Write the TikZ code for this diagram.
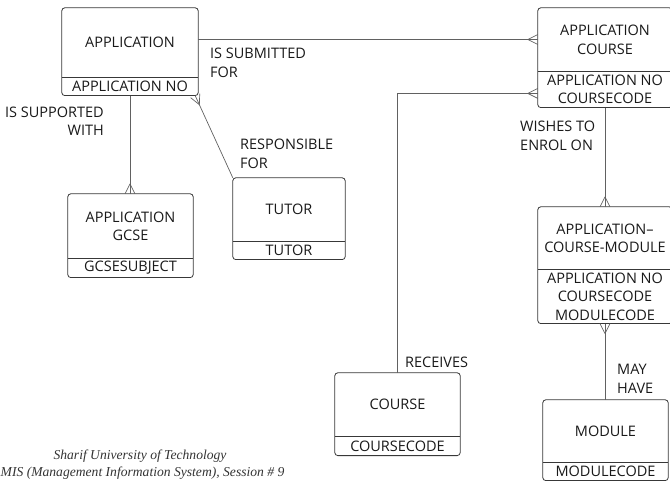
\documentclass[tikz,border=0pt]{standalone}
\usepackage{fontspec}
\setmainfont{Open Sans}
\newfontfamily\footfont{Liberation Serif}
\usetikzlibrary{positioning, fit, calc}
\definecolor{erline}{gray}{0.38}
\definecolor{erframe}{gray}{0.22}
\definecolor{ertext}{gray}{0.10}
\newcommand{\erfont}{\fontsize{14.5}{18.5}\selectfont}
% crow's foot: #1 = point on the entity, #2 = point further along the link
\newcommand{\crowfoot}[2]{%
  \draw[link] ($(#1)!10pt!(#2)$) -- ($(#1)!5pt!90:(#2)$)
              ($(#1)!10pt!(#2)$) -- ($(#1)!5pt!-90:(#2)$);}

\begin{document}
\begin{tikzpicture}[
  x=1pt, y=1pt,
  ebase/.style   = {inner sep=0pt, align=center, font=\erfont, text=ertext},
  ename/.style   = {ebase, text depth=-5pt},
  ekey/.style    = {ebase, below=0pt of #1},
  frame/.style   = {draw=erframe, rounded corners=3pt, inner sep=0pt, line width=0.8pt},
  divider/.style = {draw=erframe, line width=0.8pt},
  link/.style    = {draw=erline, line width=0.7pt},
  rel/.style     = {inner sep=0pt, align=left, font=\erfont, text=ertext},
  foot/.style    = {inner sep=0pt, font=\footfont\itshape\fontsize{13.6}{16}\selectfont, text=black!80},
]
\useasboundingbox (0,0) rectangle (670,-481);

%% ==================== ENTITIES ====================
\node[ename, minimum width=136pt, minimum height=69pt] (app) at (130,-42.5) {APPLICATION};
\node[ekey=app, minimum width=136pt, minimum height=18pt] (appkey) {APPLICATION NO};

\node[ename, minimum width=134pt, minimum height=63pt] (ac) at (605,-39.5) {APPLICATION\\COURSE};
\node[ekey=ac, minimum width=134pt, minimum height=36pt] (ackey) {APPLICATION NO\\COURSECODE};

\node[ename, minimum width=125pt, minimum height=64pt] (gcse) at (130.5,-226) {APPLICATION\\GCSE};
\node[ekey=gcse, minimum width=125pt, minimum height=19pt] (gcsekey) {GCSESUBJECT};

\node[ename, minimum width=112pt, minimum height=63pt] (tutor) at (289,-209.5) {TUTOR};
\node[ekey=tutor, minimum width=112pt, minimum height=18pt] (tutorkey) {TUTOR};

\node[ename, minimum width=134pt, minimum height=62pt] (acm) at (605,-238) {APPLICATION--\\COURSE-MODULE};
\node[ekey=acm, minimum width=134pt, minimum height=54pt] (acmkey) {APPLICATION NO\\COURSECODE\\MODULECODE};

\node[ename, minimum width=125pt, minimum height=63pt] (course) at (397.5,-404.5) {COURSE};
\node[ekey=course, minimum width=125pt, minimum height=19pt] (coursekey) {COURSECODE};

\node[ename, minimum width=125pt, minimum height=62pt] (module) at (605.5,-431) {MODULE};
\node[ekey=module, minimum width=125pt, minimum height=18pt] (modulekey) {MODULECODE};

%% frames and dividers
\foreach \e in {app, ac, gcse, tutor, acm, course, module} {
  \node[frame, fit=(\e)(\e key)] (\e box) {};
  \draw[divider] (\e key.north west) -- (\e key.north east);
}

%% ==================== RELATIONSHIPS ====================
\draw[link] (app.east |- ac.west) -- (ac.west);
\crowfoot{ac.west}{app.east |- ac.west}

\draw[link] (appkey.south) -- (appkey.south |- gcse.north);
\crowfoot{appkey.south |- gcse.north}{appkey.south}

\coordinate (appcorner) at ([xshift=-3pt]appkey.south east);
\draw[link] (appcorner) -- (tutor.north west);
\crowfoot{appcorner}{tutor.north west}

\coordinate (acin) at ([yshift=-4pt]ackey.west);
\draw[link] (course.north) |- (acin);
\crowfoot{acin}{acin -| course.north}

\draw[link] (ackey.south) -- (ackey.south |- acm.north);
\crowfoot{ackey.south |- acm.north}{ackey.south}

\draw[link] (acmkey.south) -- (acmkey.south |- module.north);
\crowfoot{acmkey.south}{acmkey.south |- module.north}

%% relationship labels
\node[rel, anchor=west] (submitted) at (210,-63) {IS SUBMITTED\\FOR};
\node[rel, anchor=east, align=right] (supported) at (104,-121) {IS SUPPORTED\\WITH};
\node[rel, anchor=west] (responsible) at (240,-154) {RESPONSIBLE\\FOR};
\node[rel, anchor=west] (wishes) at (520,-136) {WISHES TO\\ENROL ON};
\node[rel, anchor=west] (receives) at (405,-362) {RECEIVES};
\node[rel, anchor=west] (mayhave) at (617,-379) {MAY\\HAVE};

%% footer
\node[foot] (uni) at (140,-456) {Sharif University of Technology};
\node[foot, anchor=west] (session) at (0.5,-473) {MIS (Management Information System), Session \# 9};

\end{tikzpicture}
\end{document}
